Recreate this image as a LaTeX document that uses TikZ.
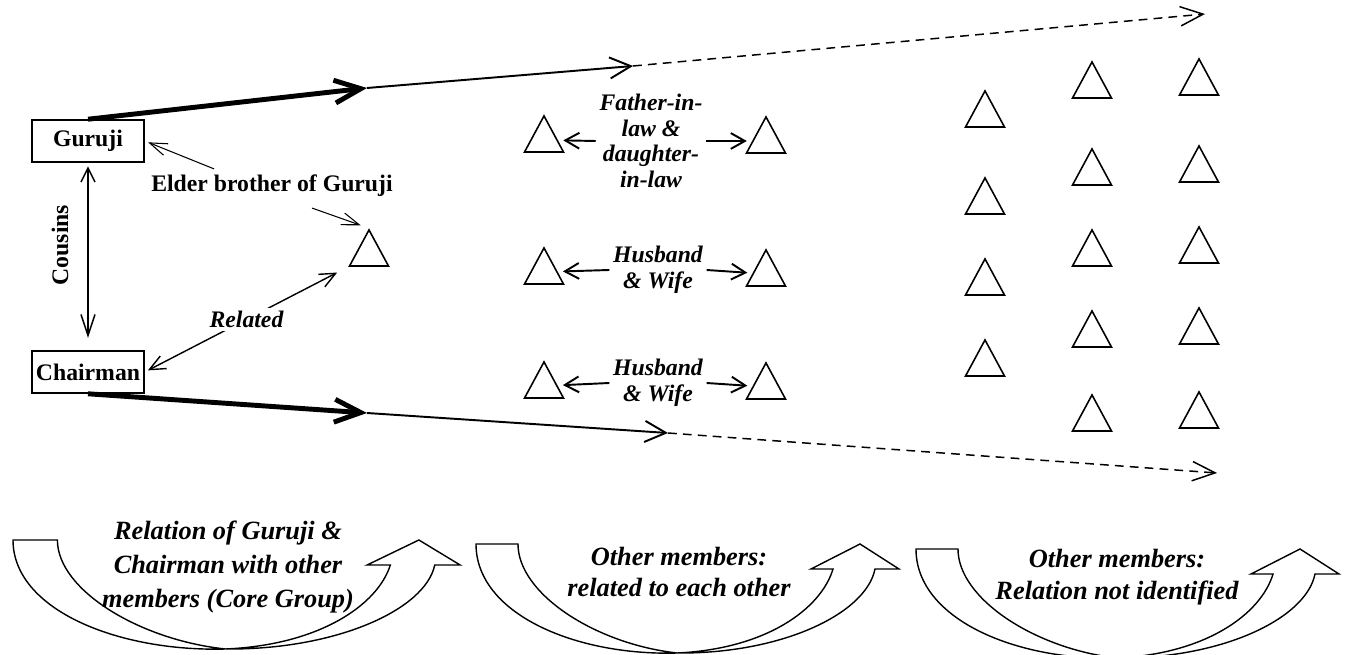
\documentclass[tikz,border=0pt]{standalone}
\usepackage{fontspec}
\setmainfont{Liberation Serif}
\usetikzlibrary{arrows.meta,shapes.geometric}

\newcommand{\turnarrow}[3]{%
  \begin{scope}[shift={(#1,#2)},xscale=#3]
    \draw[band] (0,0) -- (42,0) .. controls (42,50) and (120,100) .. (201,109)
      .. controls (290,105) and (345,65) .. (357,25) -- (335,25) -- (384,0)
      -- (423,25) -- (399,25) .. controls (390,70) and (305,110) .. (201,109)
      .. controls (100,112) and (0,70) .. (0,0) -- cycle;
  \end{scope}}

\begin{document}
\begin{tikzpicture}[x=0.02cm, y=-0.02cm,
  every node/.style={font=\fontsize{13.5}{15}\selectfont\bfseries},
  box/.style={draw, line width=0.9pt, minimum width=2.24cm, minimum height=0.84cm, inner sep=0pt},
  member/.style={regular polygon, regular polygon sides=3, draw, line width=0.9pt, minimum size=0.9cm, inner sep=0pt, yscale=1.07},
  rel/.style={font=\fontsize{13.5}{14.5}\selectfont\bfseries\itshape, align=center, inner sep=2pt},
  grouptext/.style={font=\fontsize{15}{18}\selectfont\bfseries\itshape, align=center},
  band/.style={draw, line width=0.8pt, fill=white},
  corearrow/.style={line width=2.8pt, -{Straight Barb[length=15pt,width=13pt]}},
  nextarrow/.style={line width=1.1pt, -{Straight Barb[length=12pt,width=12pt]}},
  farrow/.style={line width=0.85pt, dash pattern=on 5pt off 3.5pt, -{Straight Barb[length=13pt,width=11pt]}},
  hintarrow/.style={line width=0.6pt, -{Straight Barb[length=10pt,width=7pt]}},
  pairarrow/.style={line width=1.1pt, -{Straight Barb[length=8pt,width=9pt]}, shorten >=3pt},
  relarrow/.style={line width=0.8pt, {Straight Barb[length=9pt,width=8pt]}-{Straight Barb[length=9pt,width=8pt]}}]
\useasboundingbox (0,0) rectangle (1346,655);

\node[box] (guruji) at (88,141) {Guruji};
\node[box] (chair) at (88,372) {Chairman};
\node[member] (tri0) at (369,254) {};
\node (elder) at (272,186) {Elder brother of Guruji};
\node[rotate=90] (cousins) at (60,245) {Cousins};

\coordinate (gk) at (367,88);
\coordinate (gt) at (633,66);
\coordinate (ge) at (1205,14);
\coordinate (ck) at (367,413);
\coordinate (ct) at (668,433);
\coordinate (ce) at (1217,473);

\draw[corearrow] (guruji.north) -- (gk);
\draw[nextarrow] (gk) -- (gt);
\draw[farrow] (gt) -- (ge);
\draw[corearrow] (chair.south) -- (ck);
\draw[nextarrow] (ck) -- (ct);
\draw[farrow] (ct) -- (ce);

\draw[line width=0.85pt, {Straight Barb[length=8pt,width=8pt]}-{Straight Barb[length=12pt,width=8pt]}, shorten <=2pt, shorten >=7pt] (guruji.south) -- (chair.north);
\draw[hintarrow, shorten >=2pt] ([xshift=1.38cm]elder.north west) -- (guruji.east);
\draw[hintarrow, shorten >=5pt] ([xshift=3.34cm,yshift=-0.1cm]elder.south west) -- (tri0.corner 1);
\draw[relarrow, shorten <=2pt, shorten >=7pt] (chair.east) -- node[rel, fill=white] {Related} (tri0.corner 2);

\node[member] (a1) at (544,140) {};
\node[member] (b1) at (766,141) {};
\node[rel] (l1) at (651,141) {Father-in-\\law \&\\daughter-\\in-law};
\node[member] (a2) at (544,272) {};
\node[member] (b2) at (766,274) {};
\node[rel] (l2) at (658,270) {Husband\\\& Wife};
\node[member] (a3) at (544,386) {};
\node[member] (b3) at (766,387) {};
\node[rel] (l3) at (658,383) {Husband\\\& Wife};

\draw[pairarrow] (l1.west) -- (a1);
\draw[pairarrow] (l1.east) -- (b1);
\draw[pairarrow] (l2.west) -- (a2);
\draw[pairarrow] (l2.east) -- (b2);
\draw[pairarrow] (l3.west) -- (a3);
\draw[pairarrow] (l3.east) -- (b3);

\node[member] (u1) at (985,115) {};
\node[member] (u2) at (985,202) {};
\node[member] (u3) at (985,283) {};
\node[member] (u4) at (985,364) {};
\node[member] (u5) at (1092,86) {};
\node[member] (u6) at (1092,173) {};
\node[member] (u7) at (1092,254) {};
\node[member] (u8) at (1092,335) {};
\node[member] (u9) at (1092,419) {};
\node[member] (u10) at (1199,83) {};
\node[member] (u11) at (1199,170) {};
\node[member] (u12) at (1199,251) {};
\node[member] (u13) at (1199,332) {};
\node[member] (u14) at (1199,416) {};

\turnarrow{13}{540}{1.057}
\turnarrow{476}{544}{1}
\turnarrow{916}{549}{1}

\node[grouptext, font=\fontsize{15}{19.5}\selectfont\bfseries\itshape] (core) at (228,567) {Relation of Guruji \&\\Chairman with other\\members (Core Group)};
\node[grouptext] (kin) at (679,572) {Other members:\\related to each other};
\node[grouptext] (unknown) at (1117,577) {Other members:\\Relation not identified};
\end{tikzpicture}
\end{document}
